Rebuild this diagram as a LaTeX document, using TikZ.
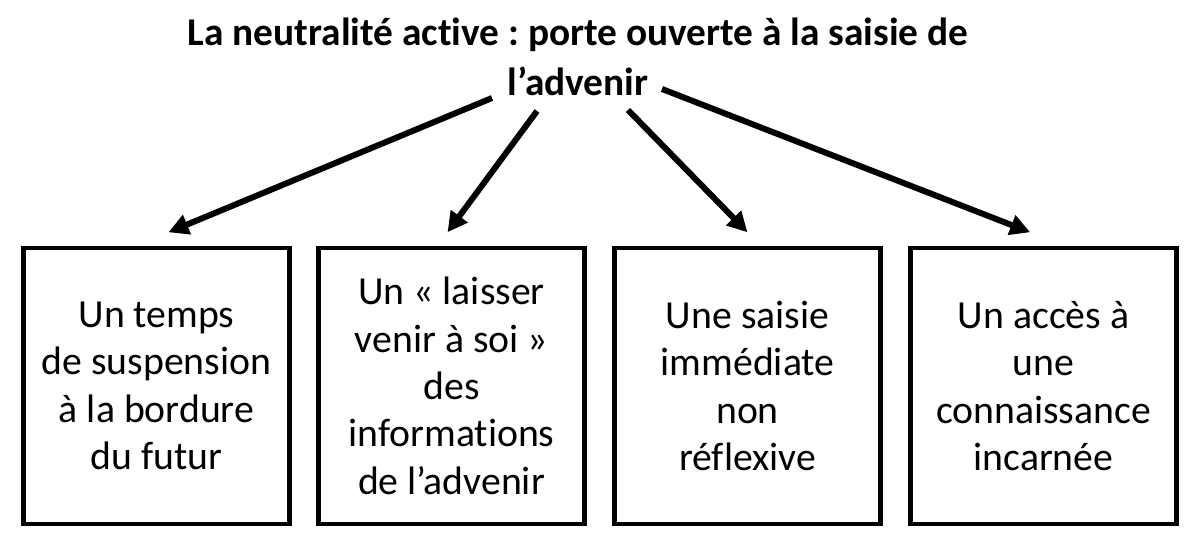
\documentclass[tikz,border=0pt]{standalone}
\usepackage{fontspec}
\setmainfont{Carlito}[Ligatures=CommonOff]
\usetikzlibrary{arrows.meta}
\frenchspacing

\tikzset{
  box/.style={draw, line width=3.6pt, minimum width=200pt, minimum height=207pt,
    align=center, inner sep=0pt, font=\fontsize{29.8}{35.5}\selectfont},
  arr/.style={line width=4.5pt, -{Triangle[length=15pt,width=15pt]}}
}

\begin{document}
\begin{tikzpicture}[x=0.75pt,y=-0.75pt]
    \useasboundingbox (0,0) rectangle (1200,549);

    \node[align=center, font=\bfseries\fontsize{29.5}{37.5}\selectfont] (title) at (578,57)
      {La neutralité active : porte ouverte à la saisie de\\l’advenir};

    \node[box] (b1) at (156.5,386) {Un temps\\de suspension\\à la bordure\\du futur};
    \node[box] (b2) at (451.5,386) {Un « laisser\\venir à soi »\\des\\informations\\de l’advenir};
    \node[box] (b3) at (747.5,386) {Une saisie\\immédiate\\non\\réflexive};
    \node[box] (b4) at (1043.5,386) {Un accès à\\une\\connaissance\\incarnée};

    \coordinate (s1) at (492,98);
    \coordinate (s2) at (537,111);
    \coordinate (s3) at (628,110);
    \coordinate (s4) at (662,89);

    \draw[arr] (s1) -- ([xshift=9pt,yshift=10pt]b1.north);
    \draw[arr] (s2) -- ([xshift=-3pt,yshift=10pt]b2.north);
    \draw[arr] (s3) -- ([xshift=0pt,yshift=10pt]b3.north);
    \draw[arr] (s4) -- ([xshift=-10pt,yshift=10pt]b4.north);
\end{tikzpicture}
\end{document}
